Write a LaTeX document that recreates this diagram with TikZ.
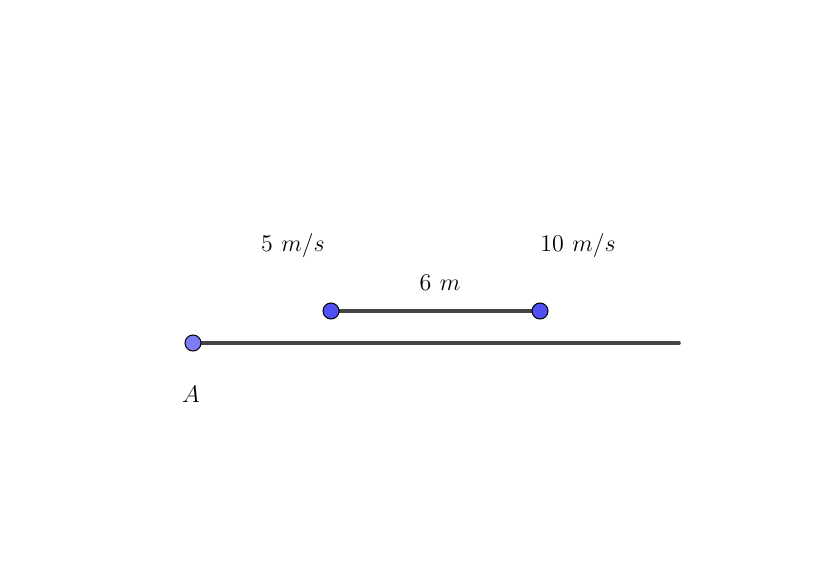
\documentclass[tikz,border=0pt]{standalone}
\usetikzlibrary{positioning, backgrounds}
\definecolor{pointA}{RGB}{125,125,245}
\definecolor{pointB}{RGB}{80,80,245}
\definecolor{linegray}{RGB}{68,68,68}
\tikzset{pointa/.style={circle, draw=black, line width=0.5pt, fill=pointA, minimum size=8pt, inner sep=0pt}}
\tikzset{pointb/.style={circle, draw=black, line width=0.5pt, fill=pointB, minimum size=8pt, inner sep=0pt}}
\tikzset{segment/.style={draw=linegray, line width=1.8pt, line cap=round}}
\tikzset{label/.style={font=\fontsize{13}{16}\selectfont, inner sep=0pt}}

\begin{document}
\begin{tikzpicture}[x=0.5pt, y=-0.5pt]
\useasboundingbox (0,0) rectangle (840,561);
\coordinate (lineend) at (679,343);
\node[pointa] (A) at (193,343) {};
\node[pointb] (left) at (331,311) {};
\node[pointb] (right) at (540,311) {};

\node[label] (Alabel) at (191,394) {$A$};
\node[label] (vleft) at (293,245) {$5\ m/s$};
\node[label] (vright) at (578,245) {$10\ m/s$};
\node[label] (dist) at (440,283) {$6\ m$};

\begin{scope}[on background layer]
\draw[segment] (A.center) -- (lineend);
\draw[segment] (left.center) -- (right.center);
\end{scope}
\end{tikzpicture}
\end{document}
